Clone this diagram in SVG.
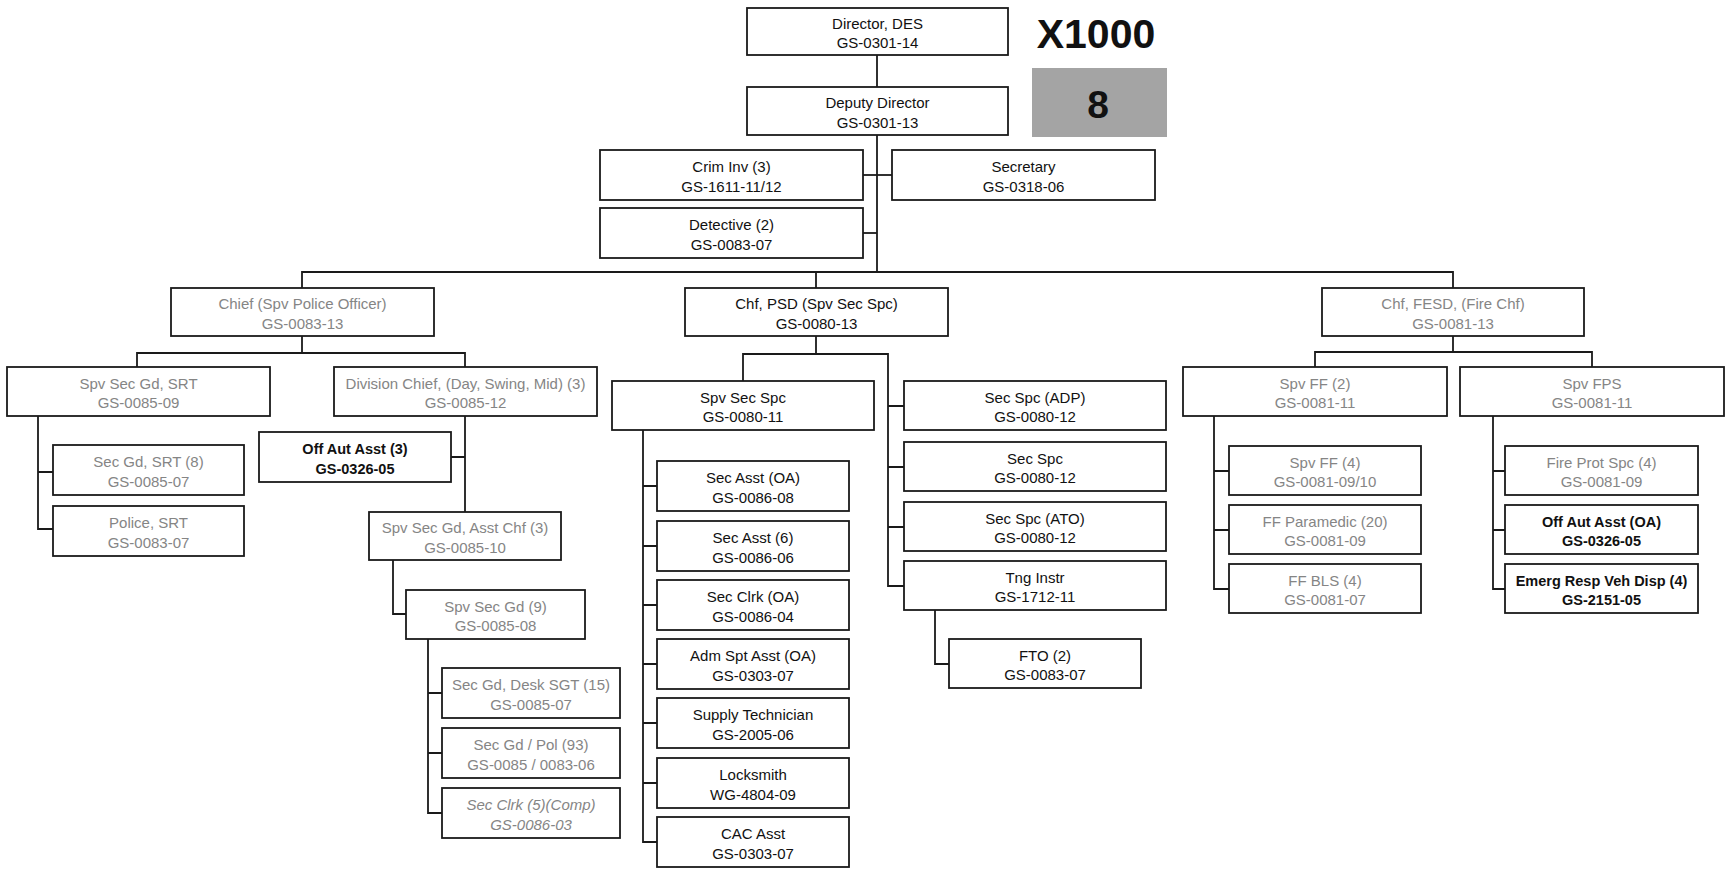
<svg xmlns="http://www.w3.org/2000/svg" width="1733" height="875" viewBox="0 0 1733 875">
<defs>
<style>
.bg{fill:#ffffff}
.box{fill:#ffffff;stroke:#1a1a1a;stroke-width:1.8}
.c{fill:none;stroke:#1a1a1a;stroke-width:1.8}
.t{font-family:"Liberation Sans",Arial,sans-serif;font-size:15px;text-anchor:middle;fill:#111}
.g{fill:#858585}
.b{font-weight:bold;font-size:14.5px}
.i{font-style:italic}
.big{font-family:"Liberation Sans",Arial,sans-serif;font-weight:bold;text-anchor:middle;fill:#111}
</style>
</defs>
<rect class="bg" x="0" y="0" width="1733" height="875"/>
<g id="connectors">
<path class="c" d="M877,55V272"/>
<path class="c" d="M863,175H892"/>
<path class="c" d="M863,233H877"/>
<path class="c" d="M302,288V272H1453V288"/>
<path class="c" d="M816,272V288"/>
<path class="c" d="M302,336V353"/>
<path class="c" d="M137,367V353H465V367"/>
<path class="c" d="M38,416V529H53M38,472H53"/>
<path class="c" d="M465,416V512M451,457H465"/>
<path class="c" d="M393,560V614H406"/>
<path class="c" d="M428,639V813H442M428,693H442M428,753H442"/>
<path class="c" d="M816,336V354"/>
<path class="c" d="M743,381V354H888V586H904M888,406H904M888,467H904M888,527H904"/>
<path class="c" d="M643,430V842H657M643,486H657M643,546H657M643,605H657M643,664H657M643,723H657M643,783H657"/>
<path class="c" d="M935,610V664H949"/>
<path class="c" d="M1453,336V352"/>
<path class="c" d="M1315,367V352H1592V367"/>
<path class="c" d="M1214,416V589H1229M1214,471H1229M1214,530H1229"/>
<path class="c" d="M1493,416V589H1505M1493,471H1505M1493,530H1505"/>
</g>
<g id="x1000"><text class="big" x="1096" y="48" font-size="41">X1000</text></g>
<g id="badge">
<rect x="1032" y="68" width="135" height="69" fill="#a4a4a4"/>
<text class="big" x="1098" y="118" font-size="39">8</text>
</g>
<g id="director"><rect class="box" x="747" y="8" width="261" height="47"/><text class="t" x="877.5" y="28.5">Director, DES</text><text class="t" x="877.5" y="48">GS-0301-14</text></g>
<g id="deputy"><rect class="box" x="747" y="87" width="261" height="48"/><text class="t" x="877.5" y="108">Deputy Director</text><text class="t" x="877.5" y="127.5">GS-0301-13</text></g>
<g id="crimInv"><rect class="box" x="600" y="150" width="263" height="50"/><text class="t" x="731.5" y="172">Crim Inv (3)</text><text class="t" x="731.5" y="191.5">GS-1611-11/12</text></g>
<g id="secretary"><rect class="box" x="892" y="150" width="263" height="50"/><text class="t" x="1023.5" y="172">Secretary</text><text class="t" x="1023.5" y="191.5">GS-0318-06</text></g>
<g id="detective"><rect class="box" x="600" y="208" width="263" height="50"/><text class="t" x="731.5" y="230">Detective (2)</text><text class="t" x="731.5" y="249.5">GS-0083-07</text></g>
<g id="chief"><rect class="box" x="171" y="288" width="263" height="48"/><text class="t g" x="302.5" y="309">Chief (Spv Police Officer)</text><text class="t g" x="302.5" y="328.5">GS-0083-13</text></g>
<g id="chfPSD"><rect class="box" x="685" y="288" width="263" height="48"/><text class="t" x="816.5" y="309">Chf, PSD (Spv Sec Spc)</text><text class="t" x="816.5" y="328.5">GS-0080-13</text></g>
<g id="chfFESD"><rect class="box" x="1322" y="288" width="262" height="48"/><text class="t g" x="1453" y="309">Chf, FESD, (Fire Chf)</text><text class="t g" x="1453" y="328.5">GS-0081-13</text></g>
<g id="spvSecGdSRT"><rect class="box" x="7" y="367" width="263" height="49"/><text class="t g" x="138.5" y="388.5">Spv Sec Gd, SRT</text><text class="t g" x="138.5" y="408">GS-0085-09</text></g>
<g id="divChief"><rect class="box" x="334" y="367" width="263" height="49"/><text class="t g" x="465.5" y="388.5">Division Chief, (Day, Swing, Mid) (3)</text><text class="t g" x="465.5" y="408">GS-0085-12</text></g>
<g id="secGdSRT"><rect class="box" x="53" y="445" width="191" height="50"/><text class="t g" x="148.5" y="467">Sec Gd, SRT (8)</text><text class="t g" x="148.5" y="486.5">GS-0085-07</text></g>
<g id="policeSRT"><rect class="box" x="53" y="506" width="191" height="50"/><text class="t g" x="148.5" y="528">Police, SRT</text><text class="t g" x="148.5" y="547.5">GS-0083-07</text></g>
<g id="offAutAsst3"><rect class="box" x="259" y="432" width="192" height="50"/><text class="t b" x="355" y="454">Off Aut Asst (3)</text><text class="t b" x="355" y="473.5">GS-0326-05</text></g>
<g id="asstChf"><rect class="box" x="369" y="512" width="192" height="48"/><text class="t g" x="465" y="533">Spv Sec Gd, Asst Chf (3)</text><text class="t g" x="465" y="552.5">GS-0085-10</text></g>
<g id="spvSecGd9"><rect class="box" x="406" y="590" width="179" height="49"/><text class="t g" x="495.5" y="611.5">Spv Sec Gd (9)</text><text class="t g" x="495.5" y="631">GS-0085-08</text></g>
<g id="deskSGT"><rect class="box" x="442" y="668" width="178" height="50"/><text class="t g" x="531" y="690">Sec Gd, Desk SGT (15)</text><text class="t g" x="531" y="709.5">GS-0085-07</text></g>
<g id="secGdPol"><rect class="box" x="442" y="728" width="178" height="50"/><text class="t g" x="531" y="750">Sec Gd / Pol (93)</text><text class="t g" x="531" y="769.5">GS-0085 / 0083-06</text></g>
<g id="secClrk5"><rect class="box" x="442" y="788" width="178" height="50"/><text class="t g i" x="531" y="810">Sec Clrk (5)(Comp)</text><text class="t g i" x="531" y="829.5">GS-0086-03</text></g>
<g id="spvSecSpc"><rect class="box" x="612" y="381" width="262" height="49"/><text class="t" x="743" y="402.5">Spv Sec Spc</text><text class="t" x="743" y="422">GS-0080-11</text></g>
<g id="secAsstOA"><rect class="box" x="657" y="461" width="192" height="50"/><text class="t" x="753" y="483">Sec Asst (OA)</text><text class="t" x="753" y="502.5">GS-0086-08</text></g>
<g id="secAsst6"><rect class="box" x="657" y="521" width="192" height="50"/><text class="t" x="753" y="543">Sec Asst (6)</text><text class="t" x="753" y="562.5">GS-0086-06</text></g>
<g id="secClrkOA"><rect class="box" x="657" y="580" width="192" height="50"/><text class="t" x="753" y="602">Sec Clrk (OA)</text><text class="t" x="753" y="621.5">GS-0086-04</text></g>
<g id="admSpt"><rect class="box" x="657" y="639" width="192" height="50"/><text class="t" x="753" y="661">Adm Spt Asst (OA)</text><text class="t" x="753" y="680.5">GS-0303-07</text></g>
<g id="supply"><rect class="box" x="657" y="698" width="192" height="50"/><text class="t" x="753" y="720">Supply Technician</text><text class="t" x="753" y="739.5">GS-2005-06</text></g>
<g id="locksmith"><rect class="box" x="657" y="758" width="192" height="50"/><text class="t" x="753" y="780">Locksmith</text><text class="t" x="753" y="799.5">WG-4804-09</text></g>
<g id="cac"><rect class="box" x="657" y="817" width="192" height="50"/><text class="t" x="753" y="839">CAC Asst</text><text class="t" x="753" y="858.5">GS-0303-07</text></g>
<g id="secSpcADP"><rect class="box" x="904" y="381" width="262" height="49"/><text class="t" x="1035" y="402.5">Sec Spc (ADP)</text><text class="t" x="1035" y="422">GS-0080-12</text></g>
<g id="secSpc"><rect class="box" x="904" y="442" width="262" height="49"/><text class="t" x="1035" y="463.5">Sec Spc</text><text class="t" x="1035" y="483">GS-0080-12</text></g>
<g id="secSpcATO"><rect class="box" x="904" y="502" width="262" height="49"/><text class="t" x="1035" y="523.5">Sec Spc (ATO)</text><text class="t" x="1035" y="543">GS-0080-12</text></g>
<g id="tngInstr"><rect class="box" x="904" y="561" width="262" height="49"/><text class="t" x="1035" y="582.5">Tng Instr</text><text class="t" x="1035" y="602">GS-1712-11</text></g>
<g id="fto"><rect class="box" x="949" y="639" width="192" height="49"/><text class="t" x="1045" y="660.5">FTO (2)</text><text class="t" x="1045" y="680">GS-0083-07</text></g>
<g id="spvFF2"><rect class="box" x="1183" y="367" width="264" height="49"/><text class="t g" x="1315" y="388.5">Spv FF (2)</text><text class="t g" x="1315" y="408">GS-0081-11</text></g>
<g id="spvFPS"><rect class="box" x="1460" y="367" width="264" height="49"/><text class="t g" x="1592" y="388.5">Spv FPS</text><text class="t g" x="1592" y="408">GS-0081-11</text></g>
<g id="spvFF4"><rect class="box" x="1229" y="446" width="192" height="49"/><text class="t g" x="1325" y="467.5">Spv FF (4)</text><text class="t g" x="1325" y="487">GS-0081-09/10</text></g>
<g id="ffParamedic"><rect class="box" x="1229" y="505" width="192" height="49"/><text class="t g" x="1325" y="526.5">FF Paramedic (20)</text><text class="t g" x="1325" y="546">GS-0081-09</text></g>
<g id="ffBLS"><rect class="box" x="1229" y="564" width="192" height="49"/><text class="t g" x="1325" y="585.5">FF BLS (4)</text><text class="t g" x="1325" y="605">GS-0081-07</text></g>
<g id="fireProt"><rect class="box" x="1505" y="446" width="193" height="49"/><text class="t g" x="1601.5" y="467.5">Fire Prot Spc (4)</text><text class="t g" x="1601.5" y="487">GS-0081-09</text></g>
<g id="offAutAsstOA"><rect class="box" x="1505" y="505" width="193" height="49"/><text class="t b" x="1601.5" y="526.5">Off Aut Asst (OA)</text><text class="t b" x="1601.5" y="546">GS-0326-05</text></g>
<g id="emerg"><rect class="box" x="1505" y="564" width="193" height="49"/><text class="t b" x="1601.5" y="585.5">Emerg Resp Veh Disp (4)</text><text class="t b" x="1601.5" y="605">GS-2151-05</text></g>
</svg>
